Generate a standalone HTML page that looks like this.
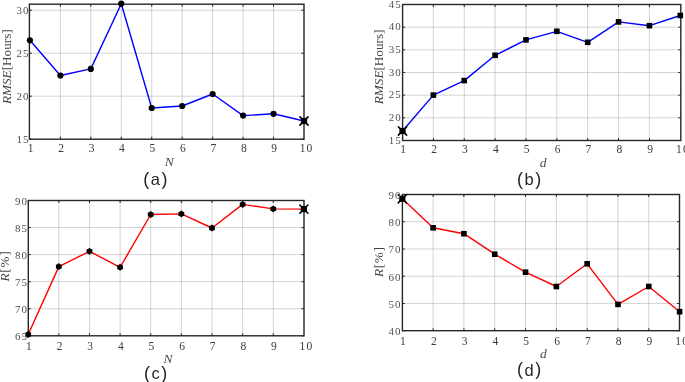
<!DOCTYPE html>
<html><head><meta charset="utf-8"><style>
html,body{margin:0;padding:0;background:#fff;width:685px;height:382px;overflow:hidden}
svg{position:absolute;left:0;top:0;will-change:transform}
text{font-family:"Liberation Serif",serif}
.xt{font-size:11.5px;fill:#3a3a3a;text-anchor:middle;letter-spacing:1.2px}
.yt{font-size:11px;fill:#505050;text-anchor:end;letter-spacing:1px}
.yl{font-size:13.2px;fill:#444;text-anchor:middle}
.xl{font-size:13.5px;font-style:italic;fill:#4a4a4a;text-anchor:middle}
.tag{font-family:"Liberation Sans",sans-serif;font-size:16.5px;fill:#262626;text-anchor:middle;letter-spacing:1.5px}
</style></head><body>
<svg width="685" height="382" viewBox="0 0 685 382">
<path d="M60.36,4.20V139.20M90.81,4.20V139.20M121.27,4.20V139.20M151.72,4.20V139.20M182.18,4.20V139.20M212.63,4.20V139.20M243.09,4.20V139.20M273.54,4.20V139.20" stroke="#262626" stroke-opacity="0.2" stroke-width="1" fill="none"/>
<path d="M29.40,96.20H304.00M29.40,53.20H304.00M29.40,10.20H304.00" stroke="#262626" stroke-opacity="0.2" stroke-width="1" fill="none"/>
<path d="M60.36,139.20v-2.5M60.36,4.20v2.5M90.81,139.20v-2.5M90.81,4.20v2.5M121.27,139.20v-2.5M121.27,4.20v2.5M151.72,139.20v-2.5M151.72,4.20v2.5M182.18,139.20v-2.5M182.18,4.20v2.5M212.63,139.20v-2.5M212.63,4.20v2.5M243.09,139.20v-2.5M243.09,4.20v2.5M273.54,139.20v-2.5M273.54,4.20v2.5M29.40,139.20h2.5M304.00,139.20h-2.5M29.40,96.20h2.5M304.00,96.20h-2.5M29.40,53.20h2.5M304.00,53.20h-2.5M29.40,10.20h2.5M304.00,10.20h-2.5" stroke="#262626" stroke-width="1" fill="none"/>
<rect x="29.40" y="4.20" width="274.60" height="135.00" stroke="#262626" stroke-width="1.4" fill="none"/>
<polyline points="29.90,40.30 60.36,75.50 90.81,68.90 121.27,3.70 151.72,108.00 182.18,106.00 212.63,94.00 243.09,115.60 273.54,113.80 304.00,121.00" stroke="#0000ff" stroke-width="1.4" fill="none" stroke-linejoin="round"/>
<circle cx="29.90" cy="40.30" r="3.1" fill="#000"/><circle cx="60.36" cy="75.50" r="3.1" fill="#000"/><circle cx="90.81" cy="68.90" r="3.1" fill="#000"/><circle cx="121.27" cy="3.70" r="3.1" fill="#000"/><circle cx="151.72" cy="108.00" r="3.1" fill="#000"/><circle cx="182.18" cy="106.00" r="3.1" fill="#000"/><circle cx="212.63" cy="94.00" r="3.1" fill="#000"/><circle cx="243.09" cy="115.60" r="3.1" fill="#000"/><circle cx="273.54" cy="113.80" r="3.1" fill="#000"/><rect x="300.90" y="117.90" width="6.2" height="6.2" fill="#000"/><path d="M299.90,116.90L308.10,125.10M299.90,125.10L308.10,116.90" stroke="#000" stroke-width="1.6" stroke-linecap="round"/>
<text x="31.20" y="152.37" class="xt">1</text>
<text x="61.66" y="152.37" class="xt">2</text>
<text x="92.11" y="152.37" class="xt">3</text>
<text x="122.57" y="152.37" class="xt">4</text>
<text x="153.02" y="152.37" class="xt">5</text>
<text x="183.48" y="152.37" class="xt">6</text>
<text x="213.93" y="152.37" class="xt">7</text>
<text x="244.39" y="152.37" class="xt">8</text>
<text x="274.84" y="152.37" class="xt">9</text>
<text x="306.60" y="152.37" class="xt">10</text>
<text x="29.40" y="143.32" class="yt">15</text>
<text x="29.40" y="100.32" class="yt">20</text>
<text x="29.40" y="57.32" class="yt">25</text>
<text x="29.40" y="14.32" class="yt">30</text>
<text transform="translate(6.80,66.70) rotate(-90)" y="4.3" class="yl"><tspan font-style="italic">RMSE</tspan>[Hours]</text>
<text x="169.20" y="165.60" class="xl">N</text>
<text x="156.20" y="185.00" class="tag"><tspan font-size="18" dy="-0.5">(</tspan><tspan dy="0.5">a</tspan><tspan font-size="18" dy="-0.5">)</tspan></text>
<path d="M433.37,4.50V140.50M464.23,4.50V140.50M495.10,4.50V140.50M525.97,4.50V140.50M556.83,4.50V140.50M587.70,4.50V140.50M618.57,4.50V140.50M649.43,4.50V140.50" stroke="#262626" stroke-opacity="0.2" stroke-width="1" fill="none"/>
<path d="M402.60,117.83H680.80M402.60,95.17H680.80M402.60,72.50H680.80M402.60,49.83H680.80M402.60,27.17H680.80" stroke="#262626" stroke-opacity="0.2" stroke-width="1" fill="none"/>
<path d="M433.37,140.50v-2.5M433.37,4.50v2.5M464.23,140.50v-2.5M464.23,4.50v2.5M495.10,140.50v-2.5M495.10,4.50v2.5M525.97,140.50v-2.5M525.97,4.50v2.5M556.83,140.50v-2.5M556.83,4.50v2.5M587.70,140.50v-2.5M587.70,4.50v2.5M618.57,140.50v-2.5M618.57,4.50v2.5M649.43,140.50v-2.5M649.43,4.50v2.5M402.60,140.50h2.5M680.80,140.50h-2.5M402.60,117.83h2.5M680.80,117.83h-2.5M402.60,95.17h2.5M680.80,95.17h-2.5M402.60,72.50h2.5M680.80,72.50h-2.5M402.60,49.83h2.5M680.80,49.83h-2.5M402.60,27.17h2.5M680.80,27.17h-2.5M402.60,4.50h2.5M680.80,4.50h-2.5" stroke="#262626" stroke-width="1" fill="none"/>
<rect x="402.60" y="4.50" width="278.20" height="136.00" stroke="#262626" stroke-width="1.4" fill="none"/>
<polyline points="402.50,131.00 433.37,95.10 464.23,80.60 495.10,55.30 525.97,39.90 556.83,31.30 587.70,42.30 618.57,21.90 649.43,25.70 680.30,15.50" stroke="#0000ff" stroke-width="1.4" fill="none" stroke-linejoin="round"/>
<rect x="399.40" y="127.90" width="6.2" height="6.2" fill="#000"/><path d="M398.40,126.90L406.60,135.10M398.40,135.10L406.60,126.90" stroke="#000" stroke-width="1.6" stroke-linecap="round"/><rect x="430.57" y="92.30" width="5.6" height="5.6" fill="#000"/><rect x="461.43" y="77.80" width="5.6" height="5.6" fill="#000"/><rect x="492.30" y="52.50" width="5.6" height="5.6" fill="#000"/><rect x="523.17" y="37.10" width="5.6" height="5.6" fill="#000"/><rect x="554.03" y="28.50" width="5.6" height="5.6" fill="#000"/><rect x="584.90" y="39.50" width="5.6" height="5.6" fill="#000"/><rect x="615.77" y="19.10" width="5.6" height="5.6" fill="#000"/><rect x="646.63" y="22.90" width="5.6" height="5.6" fill="#000"/><rect x="677.50" y="12.70" width="5.6" height="5.6" fill="#000"/>
<text x="403.80" y="152.87" class="xt">1</text>
<text x="434.67" y="152.87" class="xt">2</text>
<text x="465.53" y="152.87" class="xt">3</text>
<text x="496.40" y="152.87" class="xt">4</text>
<text x="527.27" y="152.87" class="xt">5</text>
<text x="558.13" y="152.87" class="xt">6</text>
<text x="589.00" y="152.87" class="xt">7</text>
<text x="619.87" y="152.87" class="xt">8</text>
<text x="650.73" y="152.87" class="xt">9</text>
<text x="682.90" y="152.87" class="xt">10</text>
<text x="401.70" y="143.82" class="yt">15</text>
<text x="401.70" y="121.15" class="yt">20</text>
<text x="401.70" y="98.48" class="yt">25</text>
<text x="401.70" y="75.82" class="yt">30</text>
<text x="401.70" y="53.15" class="yt">35</text>
<text x="401.70" y="30.48" class="yt">40</text>
<text x="401.70" y="7.82" class="yt">45</text>
<text transform="translate(379.00,66.90) rotate(-90)" y="4.3" class="yl"><tspan font-style="italic">RMSE</tspan>[Hours]</text>
<text x="543.20" y="166.60" class="xl">d</text>
<text x="529.90" y="185.20" class="tag"><tspan font-size="18" dy="-0.5">(</tspan><tspan dy="0.5">b</tspan><tspan font-size="18" dy="-0.5">)</tspan></text>
<path d="M58.83,200.50V335.80M89.47,200.50V335.80M120.10,200.50V335.80M150.73,200.50V335.80M181.37,200.50V335.80M212.00,200.50V335.80M242.63,200.50V335.80M273.27,200.50V335.80" stroke="#262626" stroke-opacity="0.2" stroke-width="1" fill="none"/>
<path d="M28.30,308.74H304.00M28.30,281.68H304.00M28.30,254.62H304.00M28.30,227.56H304.00" stroke="#262626" stroke-opacity="0.2" stroke-width="1" fill="none"/>
<path d="M58.83,335.80v-2.5M58.83,200.50v2.5M89.47,335.80v-2.5M89.47,200.50v2.5M120.10,335.80v-2.5M120.10,200.50v2.5M150.73,335.80v-2.5M150.73,200.50v2.5M181.37,335.80v-2.5M181.37,200.50v2.5M212.00,335.80v-2.5M212.00,200.50v2.5M242.63,335.80v-2.5M242.63,200.50v2.5M273.27,335.80v-2.5M273.27,200.50v2.5M28.30,335.80h2.5M304.00,335.80h-2.5M28.30,308.74h2.5M304.00,308.74h-2.5M28.30,281.68h2.5M304.00,281.68h-2.5M28.30,254.62h2.5M304.00,254.62h-2.5M28.30,227.56h2.5M304.00,227.56h-2.5M28.30,200.50h2.5M304.00,200.50h-2.5" stroke="#262626" stroke-width="1" fill="none"/>
<rect x="28.30" y="200.50" width="275.70" height="135.30" stroke="#262626" stroke-width="1.4" fill="none"/>
<polyline points="28.20,334.50 58.83,266.60 89.47,251.30 120.10,267.30 150.73,214.50 181.37,213.90 212.00,228.00 242.63,204.40 273.27,208.90 303.90,209.10" stroke="#ff0000" stroke-width="1.4" fill="none" stroke-linejoin="round"/>
<path d="M28.20,331.00 L26.80,332.08 L25.17,332.75 L25.40,334.50 L25.17,336.25 L26.80,336.92 L28.20,338.00 L29.60,336.92 L31.23,336.25 L31.00,334.50 L31.23,332.75 L29.60,332.08Z" fill="#000"/><path d="M58.83,263.10 L57.43,264.18 L55.80,264.85 L56.03,266.60 L55.80,268.35 L57.43,269.02 L58.83,270.10 L60.23,269.02 L61.86,268.35 L61.63,266.60 L61.86,264.85 L60.23,264.18Z" fill="#000"/><path d="M89.47,247.80 L88.07,248.88 L86.44,249.55 L86.67,251.30 L86.44,253.05 L88.07,253.72 L89.47,254.80 L90.87,253.72 L92.50,253.05 L92.27,251.30 L92.50,249.55 L90.87,248.88Z" fill="#000"/><path d="M120.10,263.80 L118.70,264.88 L117.07,265.55 L117.30,267.30 L117.07,269.05 L118.70,269.72 L120.10,270.80 L121.50,269.72 L123.13,269.05 L122.90,267.30 L123.13,265.55 L121.50,264.88Z" fill="#000"/><path d="M150.73,211.00 L149.33,212.08 L147.70,212.75 L147.93,214.50 L147.70,216.25 L149.33,216.92 L150.73,218.00 L152.13,216.92 L153.76,216.25 L153.53,214.50 L153.76,212.75 L152.13,212.08Z" fill="#000"/><path d="M181.37,210.40 L179.97,211.48 L178.34,212.15 L178.57,213.90 L178.34,215.65 L179.97,216.32 L181.37,217.40 L182.77,216.32 L184.40,215.65 L184.17,213.90 L184.40,212.15 L182.77,211.48Z" fill="#000"/><path d="M212.00,224.50 L210.60,225.58 L208.97,226.25 L209.20,228.00 L208.97,229.75 L210.60,230.42 L212.00,231.50 L213.40,230.42 L215.03,229.75 L214.80,228.00 L215.03,226.25 L213.40,225.58Z" fill="#000"/><path d="M242.63,200.90 L241.23,201.98 L239.60,202.65 L239.83,204.40 L239.60,206.15 L241.23,206.82 L242.63,207.90 L244.03,206.82 L245.66,206.15 L245.43,204.40 L245.66,202.65 L244.03,201.98Z" fill="#000"/><path d="M273.27,205.40 L271.87,206.48 L270.24,207.15 L270.47,208.90 L270.24,210.65 L271.87,211.32 L273.27,212.40 L274.67,211.32 L276.30,210.65 L276.07,208.90 L276.30,207.15 L274.67,206.48Z" fill="#000"/><rect x="300.80" y="206.00" width="6.2" height="6.2" fill="#000"/><path d="M299.80,205.00L308.00,213.20M299.80,213.20L308.00,205.00" stroke="#000" stroke-width="1.6" stroke-linecap="round"/>
<text x="29.50" y="350.17" class="xt">1</text>
<text x="60.13" y="350.17" class="xt">2</text>
<text x="90.77" y="350.17" class="xt">3</text>
<text x="121.40" y="350.17" class="xt">4</text>
<text x="152.03" y="350.17" class="xt">5</text>
<text x="182.67" y="350.17" class="xt">6</text>
<text x="213.30" y="350.17" class="xt">7</text>
<text x="243.93" y="350.17" class="xt">8</text>
<text x="274.57" y="350.17" class="xt">9</text>
<text x="306.50" y="350.17" class="xt">10</text>
<text x="27.90" y="340.22" class="yt">65</text>
<text x="27.90" y="313.16" class="yt">70</text>
<text x="27.90" y="286.10" class="yt">75</text>
<text x="27.90" y="259.04" class="yt">80</text>
<text x="27.90" y="231.98" class="yt">85</text>
<text x="27.90" y="204.92" class="yt">90</text>
<text transform="translate(5.00,266.10) rotate(-90)" y="4.3" class="yl" letter-spacing="0.7"><tspan font-style="italic">R</tspan>[%]</text>
<text x="168.00" y="363.00" class="xl">N</text>
<text x="156.35" y="379.30" class="tag"><tspan font-size="18" dy="-0.5">(</tspan><tspan dy="0.5">c</tspan><tspan font-size="18" dy="-0.5">)</tspan></text>
<path d="M433.11,194.50V330.70M463.92,194.50V330.70M494.73,194.50V330.70M525.54,194.50V330.70M556.36,194.50V330.70M587.17,194.50V330.70M617.98,194.50V330.70M648.79,194.50V330.70" stroke="#262626" stroke-opacity="0.2" stroke-width="1" fill="none"/>
<path d="M402.40,303.46H679.50M402.40,276.22H679.50M402.40,248.98H679.50M402.40,221.74H679.50" stroke="#262626" stroke-opacity="0.2" stroke-width="1" fill="none"/>
<path d="M433.11,330.70v-2.5M433.11,194.50v2.5M463.92,330.70v-2.5M463.92,194.50v2.5M494.73,330.70v-2.5M494.73,194.50v2.5M525.54,330.70v-2.5M525.54,194.50v2.5M556.36,330.70v-2.5M556.36,194.50v2.5M587.17,330.70v-2.5M587.17,194.50v2.5M617.98,330.70v-2.5M617.98,194.50v2.5M648.79,330.70v-2.5M648.79,194.50v2.5M402.40,330.70h2.5M679.50,330.70h-2.5M402.40,303.46h2.5M679.50,303.46h-2.5M402.40,276.22h2.5M679.50,276.22h-2.5M402.40,248.98h2.5M679.50,248.98h-2.5M402.40,221.74h2.5M679.50,221.74h-2.5M402.40,194.50h2.5M679.50,194.50h-2.5" stroke="#262626" stroke-width="1" fill="none"/>
<rect x="402.40" y="194.50" width="277.10" height="136.20" stroke="#262626" stroke-width="1.4" fill="none"/>
<polyline points="402.30,198.80 433.11,227.80 463.92,233.70 494.73,254.20 525.54,272.20 556.36,286.50 587.17,263.80 617.98,304.40 648.79,286.50 679.60,311.70" stroke="#ff0000" stroke-width="1.4" fill="none" stroke-linejoin="round"/>
<rect x="399.20" y="195.70" width="6.2" height="6.2" fill="#000"/><path d="M398.20,194.70L406.40,202.90M398.20,202.90L406.40,194.70" stroke="#000" stroke-width="1.6" stroke-linecap="round"/><rect x="430.31" y="225.00" width="5.6" height="5.6" fill="#000"/><rect x="461.12" y="230.90" width="5.6" height="5.6" fill="#000"/><rect x="491.93" y="251.40" width="5.6" height="5.6" fill="#000"/><rect x="522.74" y="269.40" width="5.6" height="5.6" fill="#000"/><rect x="553.56" y="283.70" width="5.6" height="5.6" fill="#000"/><rect x="584.37" y="261.00" width="5.6" height="5.6" fill="#000"/><rect x="615.18" y="301.60" width="5.6" height="5.6" fill="#000"/><rect x="645.99" y="283.70" width="5.6" height="5.6" fill="#000"/><rect x="676.80" y="308.90" width="5.6" height="5.6" fill="#000"/>
<text x="403.60" y="345.37" class="xt">1</text>
<text x="434.41" y="345.37" class="xt">2</text>
<text x="465.22" y="345.37" class="xt">3</text>
<text x="496.03" y="345.37" class="xt">4</text>
<text x="526.84" y="345.37" class="xt">5</text>
<text x="557.66" y="345.37" class="xt">6</text>
<text x="588.47" y="345.37" class="xt">7</text>
<text x="619.28" y="345.37" class="xt">8</text>
<text x="650.09" y="345.37" class="xt">9</text>
<text x="682.20" y="345.37" class="xt">10</text>
<text x="401.50" y="335.02" class="yt">40</text>
<text x="401.50" y="307.78" class="yt">50</text>
<text x="401.50" y="280.54" class="yt">60</text>
<text x="401.50" y="253.30" class="yt">70</text>
<text x="401.50" y="226.06" class="yt">80</text>
<text x="401.50" y="198.82" class="yt">90</text>
<text transform="translate(379.00,261.70) rotate(-90)" y="4.3" class="yl" letter-spacing="0.7"><tspan font-style="italic">R</tspan>[%]</text>
<text x="543.30" y="358.40" class="xl">d</text>
<text x="529.90" y="375.60" class="tag"><tspan font-size="18" dy="-0.5">(</tspan><tspan dy="0.5">d</tspan><tspan font-size="18" dy="-0.5">)</tspan></text>
</svg>
</body></html>
